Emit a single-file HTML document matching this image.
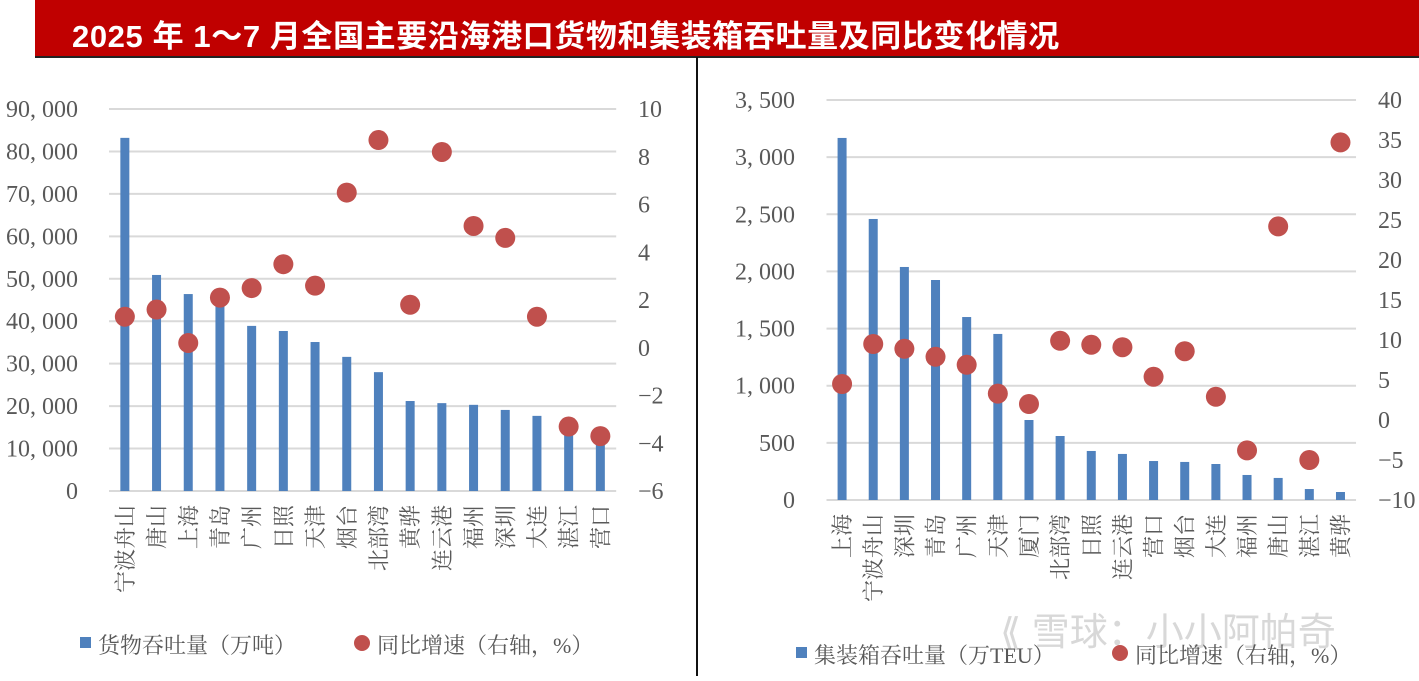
<!DOCTYPE html>
<html><head><meta charset="utf-8"><style>
body{margin:0;background:#fff;width:1419px;height:676px;overflow:hidden}
svg{font-family:"Liberation Serif","Noto Serif CJK SC",serif}
</style></head><body>
<svg id="c" width="1419" height="676" viewBox="0 0 1419 676" xmlns="http://www.w3.org/2000/svg">
<rect x="35" y="0" width="1384" height="56" fill="#c00000"/>
<text x="72" y="47" font-size="31" font-weight="bold" fill="#fff" letter-spacing="0.6" font-family="Liberation Sans, Noto Sans CJK SC, sans-serif">2025 年 1～7 月全国主要沿海港口货物和集装箱吞吐量及同比变化情况</text>
<line x1="35" y1="57" x2="1419" y2="57" stroke="#222" stroke-width="2"/>
<line x1="697" y1="57" x2="697" y2="676" stroke="#111" stroke-width="2"/>
<g id="L"></g><g id="R"></g>
<text x="1000" y="645" font-size="38" fill="#d8d8d8" font-family="Liberation Sans, Noto Sans CJK SC, sans-serif">⟪ 雪球：小小阿帕奇</text>
</svg>
<script>
const catsL=["宁波舟山","唐山","上海","青岛","广州","日照","天津","烟台","北部湾","黄骅","连云港","福州","深圳","大连","湛江","营口"];
const cargo=[83200,50900,46400,43800,38900,37700,35100,31600,28000,21200,20700,20300,19100,17700,15000,12000];
const cargoYoY=[1.3,1.6,0.2,2.1,2.5,3.5,2.6,6.5,8.7,1.8,8.2,5.1,4.6,1.3,-3.3,-3.7];
const leftTicksL=[0,10000,20000,30000,40000,50000,60000,70000,80000,90000];
const rightTicksL=[-6,-4,-2,0,2,4,6,8,10];
const catsR=["上海","宁波舟山","深圳","青岛","广州","天津","厦门","北部湾","日照","连云港","营口","烟台","大连","福州","唐山","湛江","黄骅"];
const teu=[3168,2459,2039,1925,1601,1453,700,560,429,403,341,333,315,219,193,96,70];
const teuYoY=[4.5,9.5,8.9,7.9,6.9,3.3,2.0,9.9,9.4,9.1,5.4,8.6,2.9,-3.8,24.2,-5.0,34.7];
const leftTicksR=[0,500,1000,1500,2000,2500,3000,3500];
const rightTicksR=[-10,-5,0,5,10,15,20,25,30,35,40];
const NS="http://www.w3.org/2000/svg";
function mk(p,t,a,txt){const e=document.createElementNS(NS,t);for(const k in a)e.setAttribute(k,a[k]);if(txt!=null)e.textContent=txt;p.appendChild(e);return e;}
function fmt(v){return v.toLocaleString('en-US').replace(',',', ');}
function draw(g,o){
  const yL=v=>o.y0-(v-o.lmin)/(o.lmax-o.lmin)*(o.y0-o.y1);
  const yR=v=>o.y0-(v-o.rmin)/(o.rmax-o.rmin)*(o.y0-o.y1);
  const xC=i=>o.x0+o.step*(i+0.5);
  o.lt.forEach(v=>{
    const l=mk(g,'line',{x1:o.x0,x2:o.x0+o.step*o.cats.length,y1:yL(v),y2:yL(v),stroke:'#d9d9d9','stroke-width':2});
    
    
    const t=mk(g,'text',{x:o.lx,y:yL(v)+8,'text-anchor':'end','font-size':24,fill:'#595959'},fmt(v));
    
    
  });
  o.rt.forEach(v=>{
    const t=mk(g,'text',{x:o.rx,y:yR(v)+8,'font-size':24,fill:'#595959'},String(v).replace('-','−'));
    
    
  });
  o.cats.forEach((c,i)=>{
    const b=mk(g,'rect',{x:xC(i)-4.5,y:yL(o.bars[i]),width:9,height:o.y0-yL(o.bars[i]),fill:'#4f81bd'});
    
    
    const t=mk(g,'text',{transform:`translate(${xC(i)+8},${o.y0+14}) rotate(-90)`,'text-anchor':'end','font-size':22,fill:'#595959'},c);
    
    
  });
  o.cats.forEach((c,i)=>{
    const d=mk(g,'circle',{cx:xC(i),cy:yR(o.dots[i]),r:10,fill:'#c0504d'});
    
    
  });
}
draw(document.getElementById('L'),{cats:catsL,bars:cargo,dots:cargoYoY,lt:leftTicksL,rt:rightTicksL,lmin:0,lmax:90000,rmin:-6,rmax:10,y0:491,y1:109,x0:109,step:31.7,lx:78,rx:638});
draw(document.getElementById('R'),{cats:catsR,bars:teu,dots:teuYoY,lt:leftTicksR,rt:rightTicksR,lmin:0,lmax:3500,rmin:-10,rmax:40,y0:500,y1:100,x0:826.5,step:31.15,lx:795,rx:1378});
const s=document.getElementById('c');
function legend(x,y,x2,t1,t2,p){
  const a=mk(s,'rect',{x:x,y:y-8,width:11,height:11,fill:'#4f81bd'});
  
  
  const b=mk(s,'text',{x:x+18,y:y+8,'font-size':22,fill:'#595959'},t1);
  
  
  const c=mk(s,'circle',{cx:x2,cy:y-2,r:8,fill:'#c0504d'});
  
  
  const d=mk(s,'text',{x:x2+15,y:y+8,'font-size':22,fill:'#595959'},t2);
  
  
}
legend(80,645,362,'货物吞吐量（万吨）','同比增速（右轴，%）','left');
legend(796,655,1120,'集装箱吞吐量（万TEU）','同比增速（右轴，%）','right');
</script>
</body></html>
